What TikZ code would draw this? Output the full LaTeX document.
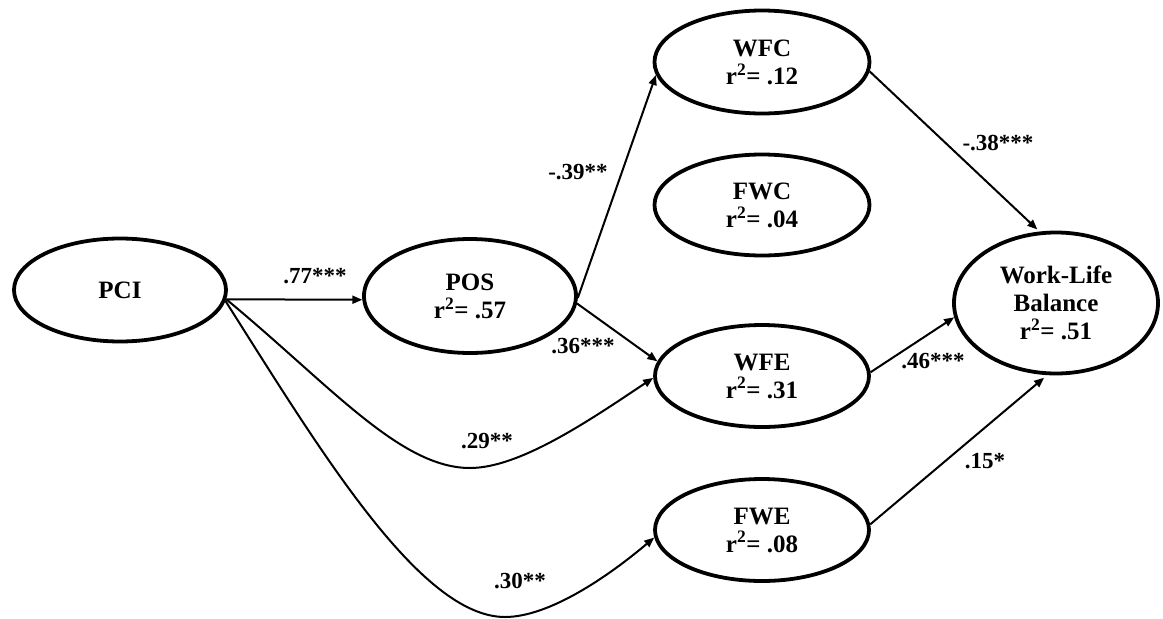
\documentclass[tikz,border=0pt]{standalone}
\usepackage{fontspec}
\setmainfont{Liberation Serif}
\usetikzlibrary{shapes.geometric,arrows.meta}
\tikzset{
  var/.style={draw, ellipse, line width=3.8pt, inner sep=0pt, align=center,
    font=\bfseries\fontsize{25}{28}\selectfont},
  path/.style={line width=2pt, -{Triangle[length=10pt,width=8pt]}},
  coef/.style={font=\bfseries\fontsize{23}{26}\selectfont, inner sep=0pt}
}
\begin{document}
\begin{tikzpicture}[x=1pt,y=-1pt]
\useasboundingbox (0,0) rectangle (1163,619);
\node[var, minimum width=212pt, minimum height=103pt] (pci) at (120,290) {PCI};
\node[var, minimum width=212pt, minimum height=114pt] (pos) at (470,296) {POS\\r\textsuperscript{2}= .57};
\node[var, minimum width=215pt, minimum height=103pt] (wfc) at (762,62) {WFC\\r\textsuperscript{2}= .12};
\node[var, minimum width=215pt, minimum height=101pt] (fwc) at (762,205) {FWC\\r\textsuperscript{2}= .04};
\node[var, minimum width=214pt, minimum height=102pt] (wfe) at (762,376) {WFE\\r\textsuperscript{2}= .31};
\node[var, minimum width=214pt, minimum height=102pt] (fwe) at (762,530) {FWE\\r\textsuperscript{2}= .08};
\node[var, minimum width=204pt, minimum height=141pt] (wlb) at (1056,303) {Work-Life\\Balance\\r\textsuperscript{2}= .51};

\draw[path] (pci.-5) -- (pos.182);
\draw[path] (pos.-1) -- (wfc.187);
\draw[path] (pos.-4) -- (wfe.172);
\draw[path] (pci.-5) .. controls (330,385) and (400,468) .. (470,468)
   .. controls (520,468) and (590,420) .. (wfe.181);
\draw[path] (pci.-6) .. controls (320,450) and (420,617) .. (505,617)
   .. controls (550,617) and (610,575) .. (fwe.184);
\draw[path, shorten >=3pt] (wfc.-5) -- (wlb.103);
\draw[path] (wfe.2) -- (wlb.188);
\draw[path, shorten >=4pt] (fwe.3) -- (wlb.263);

\node[coef] (c1) at (315,276) {.77***};
\node[coef] (c2) at (578,172) {-.39**};
\node[coef] (c3) at (583,346) {.36***};
\node[coef] (c4) at (487,441) {.29**};
\node[coef] (c5) at (520,581) {.30**};
\node[coef] (c6) at (998,143) {-.38***};
\node[coef] (c7) at (933,361) {.46***};
\node[coef] (c8) at (985,461) {.15*};
\end{tikzpicture}
\end{document}
